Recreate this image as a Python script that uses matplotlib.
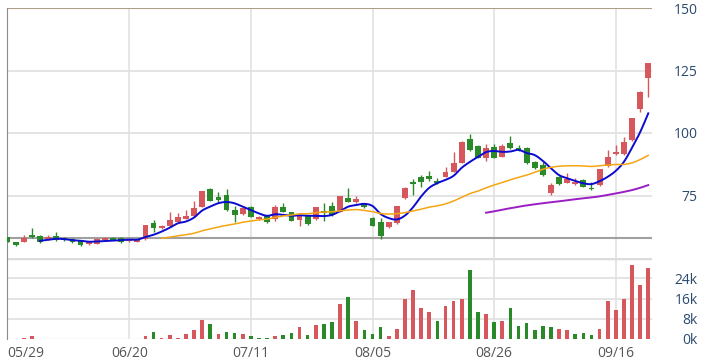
import numpy as np
import matplotlib.pyplot as plt

plt.rcParams['font.family'] = ['Open Sans', 'DejaVu Sans']

# daily OHLC, 2024-05-29 .. 2024-09-23 (80 trading days)
opens = [58.5, 56.3, 56.5, 59.2, 58.9, 57.5, 58.8, 58.1, 57.6, 56.8,
         55.7, 55.8, 57.2, 58.1, 58.1, 56.7, 56.6, 57.5, 63.9, 61.9,
         62.8, 64.5, 65.7, 66.8, 70.5, 77.5, 74.3, 75.2, 69.2, 67.6,
         70.5, 65.5, 66.8, 65.5, 70.5, 68.3, 65.2, 66.8, 65.6, 68.9,
         70.8, 68.5, 73.9, 72.5, 71.6, 65.9, 64.5, 62.3, 63.9, 73.9,
         80.5, 82.5, 82.9, 80.9, 82.5, 84.5, 88.1, 97.6, 94.9, 89.9,
         94.3, 90.5, 95.9, 94.2, 94.1, 88.5, 87.2, 76.1, 82.5, 80.1,
         79.6, 81.2, 78.0, 79.2, 86.8, 91.6, 91.6, 97.2, 109.5, 121.9]
highs = [58.6, 56.5, 59.2, 61.9, 59.3, 59.2, 60.5, 58.4, 57.9, 57.0,
         56.8, 58.0, 58.4, 58.4, 58.4, 57.8, 57.8, 63.3, 65.2, 63.2,
         68.3, 67.9, 69.2, 72.8, 77.0, 78.0, 76.3, 77.5, 70.8, 70.2,
         70.8, 66.8, 67.2, 71.1, 71.9, 68.6, 67.5, 67.2, 70.6, 71.9,
         72.3, 75.0, 77.9, 74.8, 72.0, 66.3, 65.9, 64.5, 71.0, 78.3,
         81.5, 83.2, 84.8, 81.9, 86.5, 92.5, 96.7, 99.6, 95.3, 95.7,
         95.7, 95.7, 98.8, 95.3, 94.5, 88.8, 88.3, 80.1, 82.8, 83.9,
         82.0, 81.8, 80.5, 85.7, 93.2, 95.2, 98.3, 106.1, 116.7, 128.1]
lows = [56.3, 55.0, 56.3, 58.2, 56.0, 57.3, 57.0, 57.0, 56.1, 55.0,
        55.4, 55.5, 57.0, 57.2, 56.2, 56.5, 56.4, 57.3, 60.5, 61.6,
        62.6, 64.3, 65.5, 66.6, 70.3, 72.8, 71.9, 69.0, 64.5, 67.4,
        66.3, 65.3, 64.2, 64.9, 68.3, 64.7, 62.9, 63.4, 65.4, 64.9,
        67.0, 68.3, 72.3, 71.9, 70.0, 62.7, 57.5, 62.0, 63.6, 73.7,
        75.2, 78.5, 81.0, 79.8, 82.3, 84.3, 87.9, 93.0, 89.9, 88.7,
        89.9, 90.3, 93.7, 93.0, 87.7, 85.7, 83.0, 75.4, 79.4, 79.9,
        79.4, 78.3, 77.4, 79.0, 86.6, 91.4, 91.4, 97.0, 108.5, 114.5]
closes = [56.4, 55.2, 58.1, 58.3, 56.4, 58.5, 57.2, 57.3, 56.3, 55.3,
          56.5, 57.6, 57.9, 57.4, 56.4, 57.5, 57.5, 63.2, 61.9, 62.8,
          65.2, 66.3, 66.8, 69.9, 76.8, 73.0, 73.1, 69.2, 67.2, 69.9,
          66.5, 66.3, 64.5, 70.3, 68.5, 64.9, 67.2, 63.6, 70.3, 67.9,
          67.2, 74.8, 72.5, 73.5, 70.3, 62.9, 58.8, 64.3, 70.8, 78.1,
          79.6, 80.5, 81.5, 80.1, 84.5, 87.9, 96.5, 93.2, 90.1, 94.1,
          90.1, 94.8, 93.9, 93.3, 87.9, 85.9, 83.2, 79.2, 79.6, 81.6,
          80.5, 78.5, 77.6, 85.5, 90.3, 92.5, 96.5, 105.9, 116.5, 127.9]
# volume in thousands
volumes = [0, 0, 0.3, 1.0, 0, 0, 0, 0, 0, 0,
           0, 0, 0, 0, 0, 0, 0, 1.0, 2.9, 0.3,
           1.6, 0.3, 2.0, 3.5, 7.5, 5.9, 2.0, 2.9, 2.4, 2.0,
           1.0, 0.3, 0.3, 1.0, 1.4, 2.4, 4.6, 1.4, 5.5, 5.9,
           6.6, 13.8, 16.4, 7.2, 3.5, 2.0, 4.6, 1.0, 3.9, 16.0,
           19.4, 12.1, 10.5, 7.1, 13.0, 15.0, 16.0, 27.2, 10.5, 9.8,
           6.6, 7.1, 12.1, 5.1, 6.5, 3.5, 5.1, 4.6, 3.9, 3.5,
           2.0, 2.4, 1.4, 3.9, 15.0, 11.4, 16.0, 29.1, 21.3, 28.2]
tick_idx = [0, 15, 30, 45, 60, 75]
tick_labels = ['05/29', '06/20', '07/11', '08/05', '08/26', '09/16']

RED = '#d6585c'
GREEN = '#2a8a2a'

o = np.array(opens)
h = np.array(highs)
l = np.array(lows)
c = np.array(closes)
v = np.array(volumes) * 1000
x = np.arange(len(c))


def moving_avg(vals, n):
    out = np.convolve(vals, np.ones(n) / n, mode='valid')
    return np.arange(n - 1, len(vals)), out


# Catmull-Rom so the MA lines come out smooth like the original
def smooth(xs, ys, steps=10):
    ys = np.concatenate([[ys[0]], ys, [ys[-1]]])
    xs = np.concatenate([[xs[0]], xs, [xs[-1]]])
    t = np.linspace(0, 1, steps, endpoint=False)
    sx, sy = [], []
    for k in range(1, len(ys) - 2):
        for arr, res in ((xs, sx), (ys, sy)):
            p0, p1, p2, p3 = arr[k - 1], arr[k], arr[k + 1], arr[k + 2]
            res.extend(0.5 * (2 * p1 + (-p0 + p2) * t
                              + (2 * p0 - 5 * p1 + 4 * p2 - p3) * t ** 2
                              + (-p0 + 3 * p1 - 3 * p2 + p3) * t ** 3))
    sx.append(xs[-2])
    sy.append(ys[-2])
    return sx, sy


W, H = 711, 361
fig = plt.figure(figsize=(W / 100, H / 100), dpi=100)
ax = fig.add_axes([7 / W, (H - 258) / H, 645 / W, 250 / H])
axv = fig.add_axes([7 / W, (H - 339) / H, 645 / W, 81 / H])

xlim = (-0.07, 79.46)
for a in (ax, axv):
    a.set_xlim(*xlim)
    for s in ('top', 'right', 'bottom'):
        a.spines[s].set_visible(False)
    a.spines['left'].set_color('#8c8c8c')
    for t in tick_idx[1:]:
        a.axvline(t, color='#e2e2e2', lw=1.2, zorder=0)

# price panel
ax.set_ylim(50, 150)
for yv in (75, 100, 125):
    ax.axhline(yv, color='#e2e2e2', lw=1.3, zorder=0)
ax.axhline(150, color='#ad9e8a', lw=1.5, zorder=1)
ax.axhline(58, color='#a0a0a0', lw=1.5, zorder=1)

candle_col = [RED if cc >= oo else GREEN for oo, cc in zip(o, c)]
ax.vlines(x, l, h, colors=candle_col, lw=1, zorder=3)
body_low = np.minimum(o, c)
body_h = np.maximum(np.abs(c - o), 0.3)
ax.bar(x, body_h, bottom=body_low, width=0.72, color=candle_col, zorder=3)

for n, col, lw in ((5, '#0a0ad0', 1.4), (20, '#f5a511', 1.1), (60, '#9a1ec4', 1.4)):
    mx, my = moving_avg(c, n)
    sx, sy = smooth(mx.astype(float), my)
    ax.plot(sx, sy, color=col, lw=lw, zorder=4)

ax.set_xticks([])
ax.yaxis.tick_right()
ax.set_yticks([75, 100, 125, 150])
ax.tick_params(axis='y', length=0, pad=33, labelsize=10, labelcolor='#2c4a6e')
for lab in ax.get_yticklabels():
    lab.set_horizontalalignment('right')

# volume panel
prev = np.concatenate([[c[0]], c[:-1]])
vol_col = [RED if cc >= pc else GREEN for cc, pc in zip(c, prev)]
axv.set_ylim(0, 32000)
for yv in (8000, 16000, 24000):
    axv.axhline(yv, color='#e2e2e2', lw=1.3, zorder=0)
axv.axhline(32000, color='#dcdcdc', lw=2.5, zorder=0)
axv.axhline(0, color='#e6e6e6', lw=1, zorder=0)
axv.bar(x, v, width=0.45, color=vol_col, zorder=3)

axv.yaxis.tick_right()
axv.set_yticks([0, 8000, 16000, 24000])
axv.set_yticklabels(['0k', '8k', '16k', '24k'])
axv.tick_params(axis='y', length=0, pad=33, labelsize=10, labelcolor='#2c4a6e')
for lab in axv.get_yticklabels():
    lab.set_horizontalalignment('right')

axv.set_xticks(tick_idx)
axv.set_xticklabels(tick_labels)
axv.tick_params(axis='x', length=0, pad=5, labelsize=10, labelcolor='#555555')
axv.get_xticklabels()[0].set_horizontalalignment('left')

fig.savefig('out.png', dpi=100)
